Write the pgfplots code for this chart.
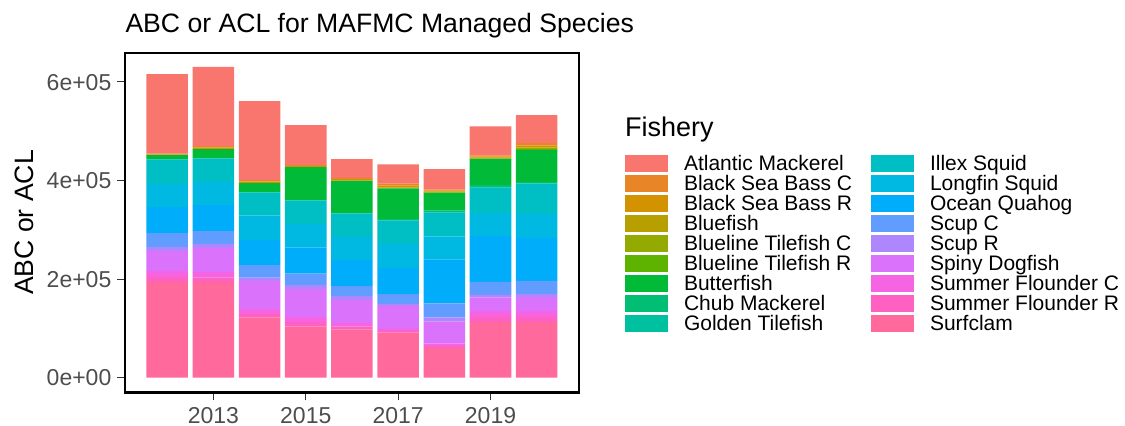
\documentclass[border=0pt]{standalone}
\usepackage{pgfplots}
\pgfplotsset{compat=1.18}
\usepackage{pgfplotstable}
\usepackage{fontspec}
\setmainfont{Liberation Sans}

\definecolor{cAM}{HTML}{F8766D}
\definecolor{cBSBC}{HTML}{E88526}
\definecolor{cBSBR}{HTML}{D39200}
\definecolor{cBF}{HTML}{B79F00}
\definecolor{cBLC}{HTML}{93AA00}
\definecolor{cBLR}{HTML}{5EB300}
\definecolor{cBUT}{HTML}{00BA38}
\definecolor{cCHUB}{HTML}{00BF74}
\definecolor{cGT}{HTML}{00C19F}
\definecolor{cILLEX}{HTML}{00BFC4}
\definecolor{cLONG}{HTML}{00B9E3}
\definecolor{cOQ}{HTML}{00ADFA}
\definecolor{cSCUPC}{HTML}{619CFF}
\definecolor{cSCUPR}{HTML}{AE87FF}
\definecolor{cSD}{HTML}{DB72FB}
\definecolor{cSFC}{HTML}{F564E3}
\definecolor{cSFR}{HTML}{FF61C3}
\definecolor{cSURF}{HTML}{FF699C}
\definecolor{tickgray}{HTML}{333333}
\definecolor{labgray}{HTML}{4D4D4D}

\pgfplotstableread{
year AM BSBC BSBR BF BLC BLR BUT CHUB GT ILLEX LONG OQ SCUPC SCUPR SD SFC SFR SURF
2012 160800 1700 1700 0 0 0 8100 0 1000 49000 47300 52700 28400 8100 40500 11500 10100 194600
2013 160800 3000 3000 0 0 0 18200 0 1000 47000 47300 52700 25700 8100 49300 10800 8800 194600
2014 160100 3000 3000 0 0 0 18200 0 1000 47000 49300 50700 25700 6800 56800 10100 6800 122300
2015 81100 2000 2000 0 0 0 66900 0 1000 47000 48600 52700 23000 8100 56800 10100 9500 103400
2016 37800 2500 2500 1100 0 0 65500 0 1000 47600 45900 53400 19600 8100 47300 7400 5400 98000
2017 39200 4000 4000 1500 0 0 62800 1700 1000 47300 48600 53400 19600 4000 46600 4000 4000 91200
2018 41300 2000 2000 1400 1000 1000 35100 3000 1000 48600 46600 89200 28400 8500 44600 4700 4000 60500
2019 58800 3000 2000 1100 1000 1000 52700 3700 1000 52000 45900 93200 26400 5400 27700 11500 10100 113500
2020 56800 5000 3800 1000 2000 2400 64200 3700 1000 60100 48600 87200 27000 6100 28400 11500 10100 113500
}\data

\pgfplotsset{
  mybar/.style={fill=#1, draw=none, area legend,
    legend image code/.code={\fill[fill=#1] (0bp,-8.5bp) rectangle (43bp,8.5bp); \path (59bp,0bp);}},
}
\newcommand\lt[1]{\makebox[187bp][l]{#1}}

\begin{document}
\begin{tikzpicture}
\useasboundingbox (0,0) rectangle (1125bp,426bp);
\begin{axis}[
  at={(125.3bp,33.5bp)}, anchor=south west,
  width=453.3bp, height=339.2bp, scale only axis,
  xmin=2011.093, xmax=2020.907, ymin=-30000, ymax=658000,
  enlargelimits=false,
  ybar stacked, bar width=0.9,
  xtick={2013,2015,2017,2019}, xticklabels={2013,2015,2017,2019},
  ytick={0,200000,400000,600000}, yticklabels={0e+00,2e+05,4e+05,6e+05},
  scaled ticks=false,
  tick align=outside, major tick length=8bp, tick pos=left,
  major tick style={draw=tickgray, line width=1.1bp},
  axis line style={line width=2.2bp, black},
  axis on top,
  tick label style={font=\fontsize{23bp}{27bp}\selectfont, text=labgray, inner sep=0pt, text height=16.5bp, text depth=0pt},
  xticklabel shift=5.8bp, yticklabel shift=5.8bp,
  legend style={at={(1.1024,0.7002)}, anchor=north west, draw=none, fill=none,
    inner sep=0pt, outer sep=0pt, row sep=3bp, column sep=0pt,
    font=\fontsize{21bp}{25bp}\selectfont,
    nodes={inner sep=0pt, text height=15bp, text depth=0pt}},
  legend cell align=left, legend columns=9, transpose legend, reverse legend,
]
\addplot[mybar=cSURF] table[x=year,y=SURF]{\data}; \addlegendentry{\lt{Surfclam}}
\addplot[mybar=cSFR] table[x=year,y=SFR]{\data}; \addlegendentry{\lt{Summer Flounder R}}
\addplot[mybar=cSFC] table[x=year,y=SFC]{\data}; \addlegendentry{\lt{Summer Flounder C}}
\addplot[mybar=cSD] table[x=year,y=SD]{\data}; \addlegendentry{\lt{Spiny Dogfish}}
\addplot[mybar=cSCUPR] table[x=year,y=SCUPR]{\data}; \addlegendentry{\lt{Scup R}}
\addplot[mybar=cSCUPC] table[x=year,y=SCUPC]{\data}; \addlegendentry{\lt{Scup C}}
\addplot[mybar=cOQ] table[x=year,y=OQ]{\data}; \addlegendentry{\lt{Ocean Quahog}}
\addplot[mybar=cLONG] table[x=year,y=LONG]{\data}; \addlegendentry{\lt{Longfin Squid}}
\addplot[mybar=cILLEX] table[x=year,y=ILLEX]{\data}; \addlegendentry{\lt{Illex Squid}}
\addplot[mybar=cGT] table[x=year,y=GT]{\data}; \addlegendentry{\lt{Golden Tilefish}}
\addplot[mybar=cCHUB] table[x=year,y=CHUB]{\data}; \addlegendentry{\lt{Chub Mackerel}}
\addplot[mybar=cBUT] table[x=year,y=BUT]{\data}; \addlegendentry{\lt{Butterfish}}
\addplot[mybar=cBLR] table[x=year,y=BLR]{\data}; \addlegendentry{\lt{Blueline Tilefish R}}
\addplot[mybar=cBLC] table[x=year,y=BLC]{\data}; \addlegendentry{\lt{Blueline Tilefish C}}
\addplot[mybar=cBF] table[x=year,y=BF]{\data}; \addlegendentry{\lt{Bluefish}}
\addplot[mybar=cBSBR] table[x=year,y=BSBR]{\data}; \addlegendentry{\lt{Black Sea Bass R}}
\addplot[mybar=cBSBC] table[x=year,y=BSBC]{\data}; \addlegendentry{\lt{Black Sea Bass C}}
\addplot[mybar=cAM] table[x=year,y=AM]{\data}; \addlegendentry{\lt{Atlantic Mackerel}}
\end{axis}
\node[anchor=base west, inner sep=0pt, font=\fontsize{26.6bp}{31bp}\selectfont] at (125.3bp,393.2bp) {ABC or ACL for MAFMC Managed Species};
\node[rotate=90, anchor=base, inner sep=0pt, font=\fontsize{26.6bp}{31bp}\selectfont] at (33.7bp,203.5bp) {ABC or ACL};
\node[anchor=base west, inner sep=0pt, font=\fontsize{27bp}{31bp}\selectfont] at (625bp,289.3bp) {Fishery};
\end{tikzpicture}
\end{document}
